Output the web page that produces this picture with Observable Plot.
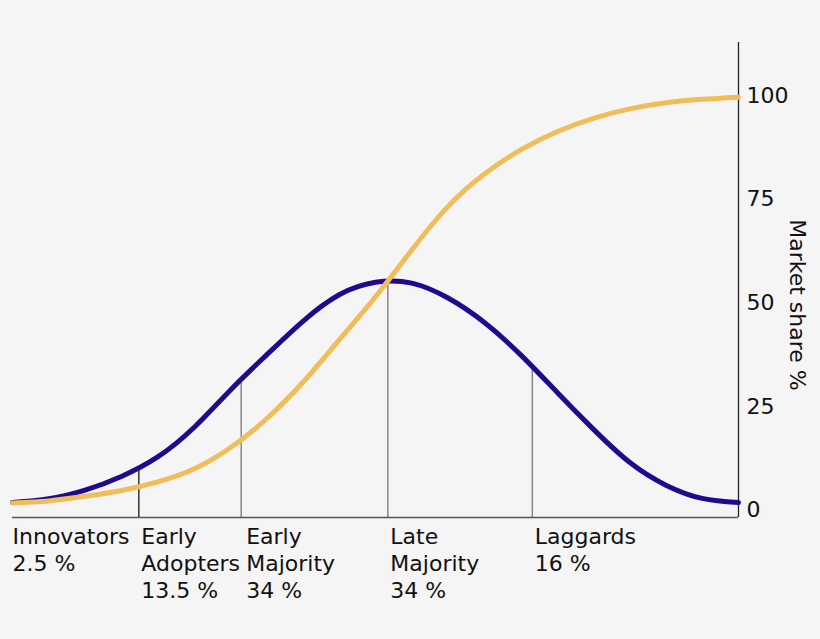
<!DOCTYPE html>
<html>
<head>
<meta charset="utf-8">
<script src="https://cdn.jsdelivr.net/npm/d3@7"></script>
<script src="https://cdn.jsdelivr.net/npm/@observablehq/plot@0.6"></script>
<style>
  html, body { margin: 0; padding: 0; background: #f5f5f5; }
  #chart { width: 820px; height: 639px; }
</style>
</head>
<body>
<div id="chart"></div>
<script>
// Adoption over time (arbitrary time units 0..100)
const timeGrid  = [0, 5, 10, 15, 20, 25, 30, 35, 40, 45, 50, 55, 60, 65, 70, 75, 80, 85, 90, 95, 100];
const bellShare = [1.9, 2.8, 4.9, 8.2, 12.9, 20.0, 29.0, 37.5, 45.6, 52.0, 55.0, 54.8, 51.2, 45.3, 37.5, 28.5, 19.6, 11.6, 6.1, 2.9, 1.9];
const cumShare  = [1.8, 2.3, 3.4, 4.8, 6.9, 10.0, 15.1, 22.1, 30.9, 41.1, 51.5, 62.8, 73.3, 81.1, 86.9, 91.3, 94.5, 96.8, 98.3, 99.1, 99.6];

const categories    = ["Innovators", "Early\nAdopters", "Early\nMajority", "Late\nMajority", "Laggards"];
const categoryShare = ["2.5 %", "13.5 %", "34 %", "34 %", "16 %"];
const categoryStart = [0, 17.4, 31.5, 51.7, 71.6];
const boundaryShare = [null, 10.4, 31.6, 55.4, 34.7];

const yTicks = [0, 25, 50, 75, 100];
const axisTitle = "Market share %";

const yMin = -1.7, yMax = 112.8;

const bell = timeGrid.map((t, i) => ({t, v: bellShare[i]}));
const cum = timeGrid.map((t, i) => ({t, v: cumShare[i]}));
const cats = categories.map((name, i) => ({
  name, share: categoryShare[i], start: categoryStart[i], top: boundaryShare[i], i
}));

const blue = "#1f0a8e";
const gold = "#efbe5b";
const fs = 22;

const chart = Plot.plot({
  width: 820,
  height: 639,
  marginLeft: 12,
  marginRight: 82,
  marginTop: 42,
  marginBottom: 122,
  style: {fontFamily: "DejaVu Sans", fontSize: fs + "px", background: "#f5f5f5", color: "#111"},
  x: {domain: [0, 100], axis: null},
  y: {domain: [yMin, yMax], axis: null},
  marks: [
    Plot.ruleX(cats.filter(d => d.top != null), {
      x: "start", y1: () => yMin, y2: "top",
      stroke: d => d.i === 1 ? "#333" : "#888", strokeWidth: 1.5
    }),
    Plot.ruleY([yMin], {x1: 0, x2: 100, stroke: "#555", strokeWidth: 1.5}),
    Plot.ruleX([100], {y1: yMin, y2: yMax, stroke: "#222", strokeWidth: 1.3}),
    Plot.line(bell, {x: "t", y: "v", stroke: blue, strokeWidth: 5, curve: "natural"}),
    Plot.line(cum, {x: "t", y: "v", stroke: gold, strokeWidth: 5, curve: "natural"}),
    Plot.axisY({anchor: "right", ticks: yTicks, tickSize: 0, tickPadding: 8, label: null, fontSize: fs, fill: "#111"}),
    Plot.text([axisTitle], {
      frameAnchor: "right", text: d => d, rotate: 90, dx: 59, dy: 25,
      fontSize: fs, fill: "#111", textAnchor: "middle"
    }),
    Plot.text(cats.filter(d => d.i === 0), {
      x: "start", y: () => yMin, text: d => d.name + "\n" + d.share,
      textAnchor: "start", lineAnchor: "top", lineHeight: 1.214,
      dx: 0, dy: 8, fontSize: fs, fill: "#111"
    }),
    Plot.text(cats.filter(d => d.i === 1 || d.i > 2), {
      x: "start", y: () => yMin, text: d => d.name + "\n" + d.share,
      textAnchor: "start", lineAnchor: "top", lineHeight: 1.214,
      dx: 2.5, dy: 8, fontSize: fs, fill: "#111"
    }),
    Plot.text(cats.filter(d => d.i === 2), {
      x: "start", y: () => yMin, text: d => d.name + "\n" + d.share,
      textAnchor: "start", lineAnchor: "top", lineHeight: 1.214,
      dx: 5, dy: 8, fontSize: fs, fill: "#111"
    })
  ]
});
document.getElementById("chart").appendChild(chart);
</script>
</body>
</html>
